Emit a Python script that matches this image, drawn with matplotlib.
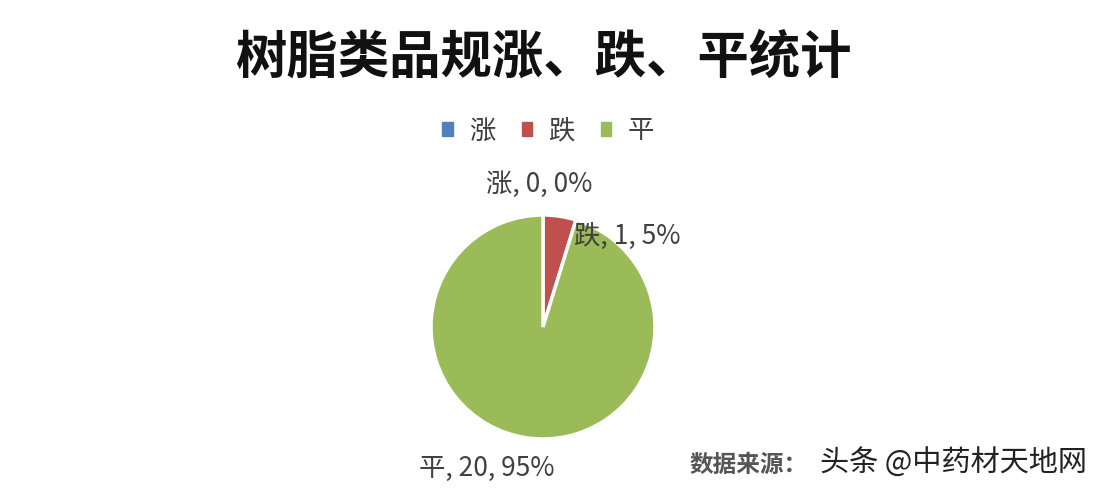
import matplotlib.pyplot as plt

plt.rcParams['font.family'] = ['Noto Sans CJK SC', 'DejaVu Sans']

categories = ['涨', '跌', '平']
counts = [0, 1, 20]
percents = [0, 5, 95]
colors = ['#4F81BD', '#C0504D', '#9BBB59']

fig = plt.figure(figsize=(11, 4.88), dpi=100)
fig.patch.set_facecolor('white')

# pie axes: center ~(543, 327) px, radius ~112 px
ax = fig.add_axes([(543 - 112) / 1100, 1 - (327 + 112) / 488, 224 / 1100, 224 / 488])
wedges, _ = ax.pie(counts, colors=colors, startangle=90, counterclock=False,
                   wedgeprops=dict(edgecolor='white', linewidth=2.5))
ax.set_xlim(-1, 1)
ax.set_ylim(-1, 1)
ax.set_aspect('equal')
ax.axis('off')

# data labels
label_pos = [(-0.03, 1.27, 'center'), (0.28, 0.81, 'left'), (-0.50, -1.26, 'center')]
for (x, y, ha), c, n, p in zip(label_pos, categories, counts, percents):
    ax.text(x, y, f'{c}, {n}, {p}%', ha=ha, va='center', fontsize=19,
            color='#404040', clip_on=False)

fig.text(543 / 1100, 1 - 57 / 488, '树脂类品规涨、跌、平统计', ha='center', va='center',
         fontsize=37, fontweight='bold', color='#111111')

# legend
handles = [plt.Rectangle((0, 0), 1, 1, color=c) for c in colors]
fig.legend(handles, categories, loc='center', bbox_to_anchor=(548 / 1100, 1 - 131 / 488),
           ncol=3, frameon=False, fontsize=19, handlelength=0.4, handleheight=0.4,
           columnspacing=1.0, handletextpad=0.6, labelcolor='#404040')

fig.text(690 / 1100, 1 - 465 / 488, '数据来源：', ha='left', va='center',
         fontsize=17, color='#555555', fontweight='bold')
fig.text(820 / 1100, 1 - 463 / 488, '头条 @中药材天地网', ha='left', va='center',
         fontsize=21, color='#222222')

fig.savefig('out.png', dpi=100, facecolor='white')
